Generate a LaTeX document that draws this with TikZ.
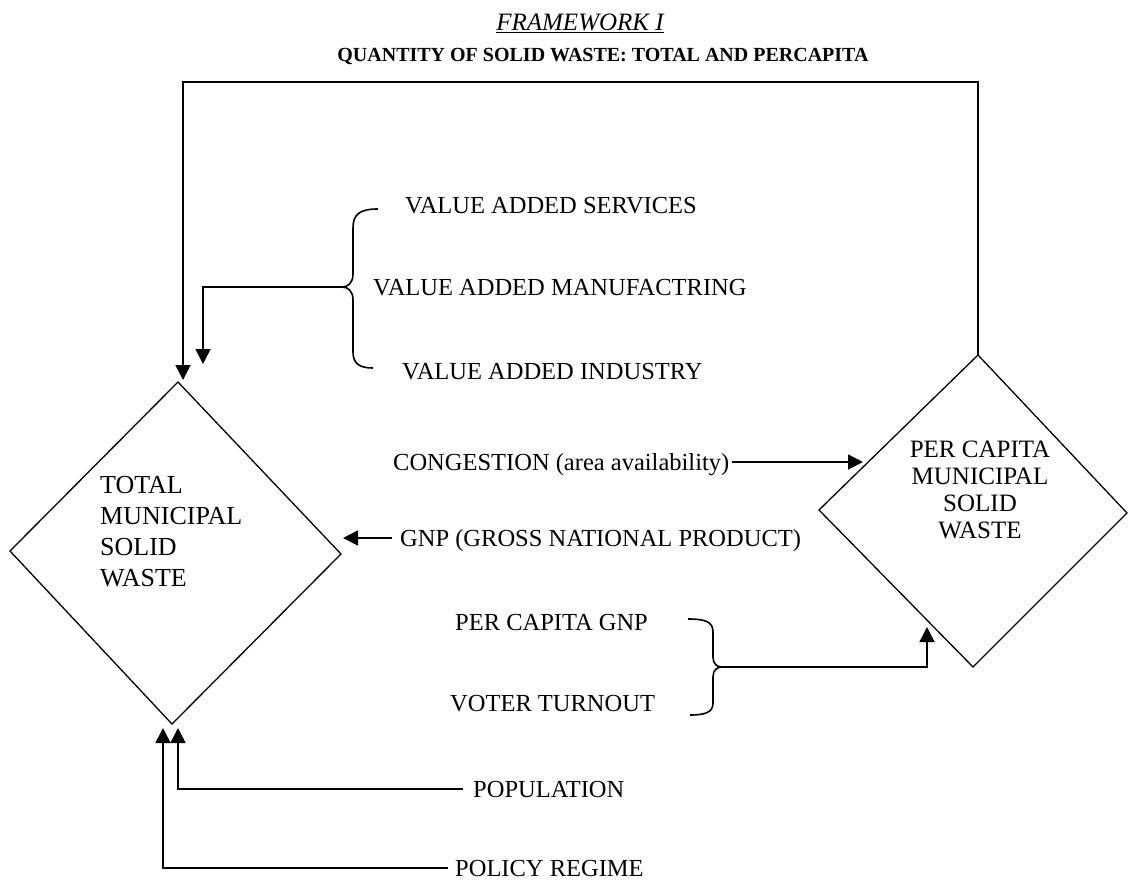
\documentclass[tikz,border=0pt]{standalone}
\usepackage{fontspec}
\setmainfont{Liberation Serif}
\usetikzlibrary{arrows.meta}
\begin{document}
\begin{tikzpicture}[x=1pt,y=-1pt,
  conn/.style={line width=1.6pt},
  arr/.style={conn,-{Triangle[length=15pt,width=15pt]}},
  lbl/.style={font=\fontsize{24.5}{29}\selectfont, inner sep=0pt, text height=16pt, text depth=0pt, anchor=west},
  dia/.style={line width=1.3pt, line join=miter},
  bracestyle/.style={line width=1.6pt}
]
\useasboundingbox (0,0) rectangle (1128,881);

% titles
\node[inner sep=0pt, font=\fontsize{25}{29}\selectfont\itshape] (title) at (580,23) {\underline{FRAMEWORK I}};
\node[inner sep=0pt, font=\fontsize{20}{24}\selectfont\bfseries] (subtitle) at (603,56) {QUANTITY OF SOLID WASTE: TOTAL AND PERCAPITA};

% left diamond
\coordinate (Lt) at (178,382);
\coordinate (Lr) at (341,554);
\coordinate (Lb) at (172,724);
\coordinate (Ll) at (10,551);
\draw[dia] (Lt) -- (Lr) -- (Lb) -- (Ll) -- cycle;
\node[inner sep=0pt, anchor=west, align=left, font=\fontsize{26}{31}\selectfont] (total) at (100,532) {TOTAL\\MUNICIPAL\\SOLID\\WASTE};

% right diamond
\coordinate (Rt) at (978,355);
\coordinate (Rr) at (1127,513);
\coordinate (Rb) at (973,667);
\coordinate (Rl) at (819,510);
\draw[dia] (Rt) -- (Rr) -- (Rb) -- (Rl) -- cycle;
\node[inner sep=0pt, align=center, font=\fontsize{25}{27}\selectfont] (percap) at (980,490) {PER CAPITA\\MUNICIPAL\\SOLID\\WASTE};

% labels
\node[lbl] (vas) at (405,205) {VALUE ADDED SERVICES};
\node[lbl] (vam) at (373,287) {VALUE ADDED MANUFACTRING};
\node[lbl] (vai) at (402,371) {VALUE ADDED INDUSTRY};
\node[lbl] (cong) at (393,462) {CONGESTION (area availability)};
\node[lbl] (gnp) at (400,538) {GNP (GROSS NATIONAL PRODUCT)};
\node[lbl] (pcgnp) at (455,622) {PER CAPITA GNP};
\node[lbl] (vt) at (450,703) {VOTER TURNOUT};
\node[lbl] (pop) at (473,789) {POPULATION};
\node[lbl] (pol) at (455,868) {POLICY REGIME};

% entry points
\coordinate (fb1) at (978,82);
\coordinate (fb2) at (183,82);
\coordinate (LtIn1) at (183,380);
\coordinate (LtIn2) at (203,364);
\coordinate (LgIn) at (343,538);
\coordinate (RcIn) at (863,462);
\coordinate (RpIn) at (927,627);
\coordinate (LbIn1) at (163,728);
\coordinate (LbIn2) at (178,728);

% braces
\coordinate (bt1) at (342,287);
\draw[bracestyle] (378,209) .. controls (360,209) and (353,214) .. (353,228) -- (353,274)
  .. controls (353,283) and (348,287) .. (bt1)
  .. controls (348,287) and (353,291) .. (353,300) -- (353,352)
  .. controls (353,364) and (360,368) .. (373,368);
\coordinate (bt2) at (722,667);
\draw[bracestyle] (688,619) .. controls (706,619) and (713,622) .. (713,632) -- (713,657)
  .. controls (713,664) and (717,667) .. (bt2)
  .. controls (717,667) and (713,670) .. (713,677) -- (713,703)
  .. controls (713,712) and (706,715) .. (690,715);

% connectors
\draw[arr] (Rt) -- (fb1) -- (fb2) -- (LtIn1);
\draw[arr] (bt1) -| (LtIn2);
\draw[arr, shorten <=3pt] (cong.east) -- (RcIn);
\draw[arr, shorten <=8pt] (gnp.west) -- (LgIn);
\draw[arr] (bt2) -| (RpIn);
\draw[arr, shorten <=10pt] (pop.west) -| (LbIn2);
\draw[arr, shorten <=7pt] (pol.west) -| (LbIn1);
\end{tikzpicture}
\end{document}
